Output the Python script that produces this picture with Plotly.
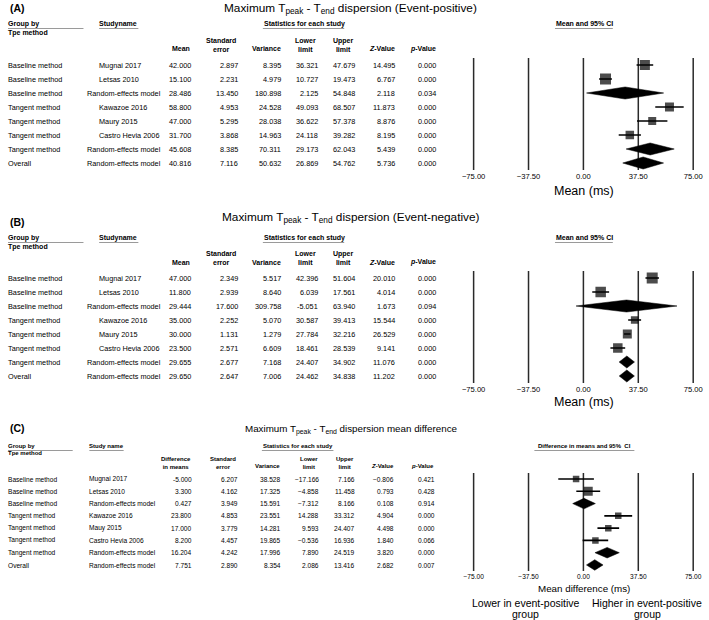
import plotly.graph_objects as go

W, H = 709, 620
FONT = "Liberation Sans, Arial, sans-serif"

# ---------------- data ----------------
groups = ["Baseline method", "Baseline method", "Baseline method",
          "Tangent method", "Tangent method", "Tangent method",
          "Tangent method", "Overall"]
studies_AB = ["Mugnai 2017", "Letsas 2010", "Random-effects model", "Kawazoe 2016",
              "Maury 2015", "Castro Hevia 2006", "Random-effects model", "Random-effects model"]
studies_C = ["Mugnai 2017", "Letsas 2010", "Random-effects model", "Kawazoe 2016",
             "Mauy 2015", "Castro Hevia 2006", "Random-effects model", "Random-effects model"]
is_summary = [False, False, True, False, False, False, True, True]

tick_vals = [-75, -37.5, 0, 37.5, 75]
tick_text = ["\u221275.00", "\u221237.50", "0.00", "37.50", "75.00"]

# Panel A (Event-positive)
mean_A = [42.000, 15.100, 28.486, 58.800, 47.000, 31.700, 45.608, 40.816]
se_A = [2.897, 2.231, 13.450, 4.953, 5.295, 3.868, 8.385, 7.116]
var_A = [8.395, 4.979, 180.898, 24.528, 28.038, 14.963, 70.311, 50.632]
lower_A = [36.321, 10.727, 2.125, 49.093, 36.622, 24.118, 29.173, 26.869]
upper_A = [47.679, 19.473, 54.848, 68.507, 57.378, 39.282, 62.043, 54.762]
z_A = [14.495, 6.767, 2.118, 11.873, 8.876, 8.195, 5.439, 5.736]
p_A = [0.000, 0.000, 0.034, 0.000, 0.000, 0.000, 0.000, 0.000]

# Panel B (Event-negative)
mean_B = [47.000, 11.800, 29.444, 35.000, 30.000, 23.500, 29.655, 29.650]
se_B = [2.349, 2.939, 17.600, 2.252, 1.131, 2.571, 2.677, 2.647]
var_B = [5.517, 8.640, 309.758, 5.070, 1.279, 6.609, 7.168, 7.006]
lower_B = [42.396, 6.039, -5.051, 30.587, 27.784, 18.461, 24.407, 24.462]
upper_B = [51.604, 17.561, 63.940, 39.413, 32.216, 28.539, 34.902, 34.838]
z_B = [20.010, 4.014, 1.673, 15.544, 26.529, 9.141, 11.076, 11.202]
p_B = [0.000, 0.000, 0.094, 0.000, 0.000, 0.000, 0.000, 0.000]

# Panel C (mean difference)
diff_C = [-5.000, 3.300, 0.427, 23.800, 17.000, 8.200, 16.204, 7.751]
se_C = [6.207, 4.162, 3.949, 4.853, 3.779, 4.457, 4.242, 2.890]
var_C = [38.528, 17.325, 15.591, 23.551, 14.281, 19.865, 17.996, 8.354]
lower_C = [-17.166, -4.858, -7.312, 14.288, 9.593, -0.536, 7.890, 2.086]
upper_C = [7.166, 11.458, 8.166, 33.312, 24.407, 16.936, 24.519, 13.416]
z_C = [-0.806, 0.793, 0.108, 4.904, 4.498, 1.840, 3.820, 2.682]
p_C = [0.421, 0.428, 0.914, 0.000, 0.000, 0.066, 0.000, 0.007]

# ---------------- helpers ----------------
annotations = []
shapes = []


def px(x):
    return x / W


def py(y):
    return 1 - y / H


def text(x, y, s, size=7.2, anchor="left", color="black"):
    annotations.append(dict(x=px(x), y=py(y), xref="paper", yref="paper", text=s,
                            showarrow=False, xanchor=anchor, yanchor="middle",
                            font=dict(family=FONT, size=size, color=color),
                            borderpad=0, borderwidth=0, align="center"))


def uline(x0, x1, y, color="#9a9a9a", width=1):
    shapes.append(dict(type="line", xref="paper", yref="paper", x0=px(x0), x1=px(x1),
                       y0=py(y), y1=py(y), line=dict(color=color, width=width)))


def fmt(v, minus="-"):
    s = f"{v:.3f}"
    return s.replace("-", minus)


fig = go.Figure()

panels = [
    dict(key="A", k=1, studies=studies_AB,
         title="Maximum T<sub>peak</sub> - T<sub>end</sub> dispersion (Event-positive)",
         cols=[mean_A, se_A, var_A, lower_A, upper_A, z_A, p_A],
         est=mean_A, lo=lower_A, hi=upper_A,
         sizes=[10, 11, 0, 9, 8, 8.5, 0, 0],
         label_y=8, title_y=8, title_x=349, title_size=11.8,
         h1=24, h2=33, hs1=40, hs2=49, row0=65, dy=14, dom=(58, 170),
         font=7.3, hfont=7.0, study_x=93, re_x=81,
         num_r=[187, 235, 278, 316, 354, 395, 437],
         head_c=[176, 217, 264, 303, 342, 382, 423],
         first_head="Mean", stat_c=302, ci_c=588, ci_head="Mean and 95% CI",
         ul_group=77, ul_study=(93, 133), ul_stat=(260, 343), ul_ci=(558, 617),
         xtitle="Mean (ms)", xtitle_y=191, xtitle_size=12.5,
         study_head="Studyname", minus_lo="-", minus_z="-"),
    dict(key="B", k=2, studies=studies_AB,
         title="Maximum T<sub>peak</sub> - T<sub>end</sub> dispersion (Event-negative)",
         cols=[mean_B, se_B, var_B, lower_B, upper_B, z_B, p_B],
         est=mean_B, lo=lower_B, hi=upper_B,
         sizes=[11, 10.5, 0, 7.5, 9, 9.5, 0, 0],
         label_y=222, title_y=218, title_x=349, title_size=11.8,
         h1=238, h2=247, hs1=253, hs2=262, row0=278, dy=14, dom=(271, 383),
         font=7.3, hfont=7.0, study_x=93, re_x=81,
         num_r=[187, 235, 278, 316, 354, 395, 437],
         head_c=[176, 217, 264, 303, 342, 382, 423],
         first_head="Mean", stat_c=302, ci_c=588, ci_head="Mean and 95% CI",
         ul_group=77, ul_study=(93, 133), ul_stat=(260, 343), ul_ci=(558, 617),
         xtitle="Mean (ms)", xtitle_y=402, xtitle_size=12.5,
         study_head="Studyname", minus_lo="-", minus_z="-"),
    dict(key="C", k=3, studies=studies_C,
         title="Maximum T<sub>peak</sub> - T<sub>end</sub> dispersion mean difference",
         cols=[diff_C, se_C, var_C, lower_C, upper_C, z_C, p_C],
         est=diff_C, lo=lower_C, hi=upper_C,
         sizes=[6.5, 9, 0, 6.5, 6.5, 6.5, 0, 0],
         label_y=428, title_y=429, title_x=350, title_size=9.8,
         h1=446, h2=453, hs1=459, hs2=466, row0=479, dy=12.29, dom=(472.9, 571.1),
         font=6.6, hfont=6.0, study_x=83, re_x=83,
         num_r=[188, 235, 279, 317, 354, 394, 436],
         head_c=[171, 219, 265, 307, 344, 382, 423],
         first_head="Difference<br>in means", stat_c=295.5, ci_c=588,
         ci_head="Difference in means and 95%  CI",
         ul_group=66, ul_study=(83, 118), ul_stat=(259, 332), ul_ci=(537, 639),
         xtitle="Mean difference (ms)", xtitle_y=588, xtitle_size=9.8,
         study_head="Study name", minus_lo="\u2212", minus_z="\u2212"),
]

layout_axes = {}
# forest axis: -75 at 475px, +75 at 699px; domain padded a little on both sides
PPU = (699 - 475) / 150.0
PAD = 4.0

for P in panels:
    k = P["k"]
    xa = "x" if k == 1 else f"x{k}"
    ya = "y" if k == 1 else f"y{k}"
    xname = "xaxis" if k == 1 else f"xaxis{k}"
    yname = "yaxis" if k == 1 else f"yaxis{k}"
    n = len(groups)

    text(2, P["label_y"], f"<b>({P['key']})</b>", size=10.5)
    text(P["title_x"], P["title_y"], P["title"], size=P["title_size"], anchor="center")

    hf = P["hfont"]
    text(0, P["h1"], "<b>Group by</b>", size=hf)
    text(0, P["h2"], "<b>Tpe method</b>", size=hf)
    uline(0, P["ul_group"], P["h1"] + 4.5)
    text(P["study_x"], P["h1"], f"<b>{P['study_head']}</b>", size=hf)
    uline(P["ul_study"][0], P["ul_study"][1], P["h1"] + 4.5)
    text(P["stat_c"], P["h1"], "<b>Statistics for each study</b>", size=hf, anchor="center")
    uline(P["ul_stat"][0], P["ul_stat"][1], P["h1"] + 4.5)
    text(P["ci_c"], P["h1"], f"<b>{P['ci_head']}</b>", size=hf, anchor="center")
    uline(P["ul_ci"][0], P["ul_ci"][1], P["h1"] + 4.5)

    hc = P["head_c"]
    ymid = (P["hs1"] + P["hs2"]) / 2
    if "<br>" in P["first_head"]:
        text(hc[0], ymid, f"<b>{P['first_head']}</b>", size=hf, anchor="center")
    else:
        text(hc[0], P["hs2"], f"<b>{P['first_head']}</b>", size=hf, anchor="center")
    text(hc[1], ymid, "<b>Standard<br>error</b>", size=hf, anchor="center")
    text(hc[2], P["hs2"], "<b>Variance</b>", size=hf, anchor="center")
    text(hc[3], ymid, "<b>Lower<br>limit</b>", size=hf, anchor="center")
    text(hc[4], ymid, "<b>Upper<br>limit</b>", size=hf, anchor="center")
    text(hc[5], P["hs2"], "<b><i>Z</i>-Value</b>", size=hf, anchor="center")
    text(hc[6], P["hs2"], "<b><i>p</i>-Value</b>", size=hf, anchor="center")

    for i in range(n):
        yy = P["row0"] + P["dy"] * i
        text(0, yy, groups[i], size=P["font"])
        sx = P["re_x"] if is_summary[i] else P["study_x"]
        text(sx, yy, P["studies"][i], size=P["font"])
        for c, col in enumerate(P["cols"]):
            minus = "-"
            if c == 3:
                minus = P["minus_lo"]
            if c == 5:
                minus = P["minus_z"]
            text(P["num_r"][c], yy, fmt(col[i], minus), size=P["font"], anchor="right")

    # reference lines at each tick value, spanning the rows
    vx, vy = [], []
    for v in tick_vals:
        vx += [v, v, None]
        vy += [-0.5, n - 0.5, None]
    fig.add_trace(go.Scatter(x=vx, y=vy, mode="lines", xaxis=xa, yaxis=ya,
                             line=dict(color="#2a2a2a", width=1.5), hoverinfo="skip"))

    wx, wy = [], []
    sx_, sy_, ss_ = [], [], []
    dx, dyy = [], []
    hh = 0.43
    for i in range(n):
        if is_summary[i]:
            dx += [P["lo"][i], P["est"][i], P["hi"][i], P["est"][i], P["lo"][i], None]
            dyy += [i, i - hh, i, i + hh, i, None]
        else:
            wx += [P["lo"][i], P["hi"][i], None]
            wy += [i, i, None]
            sx_.append(P["est"][i])
            sy_.append(i)
            ss_.append(P["sizes"][i])
    fig.add_trace(go.Scatter(x=wx, y=wy, mode="lines", xaxis=xa, yaxis=ya,
                             line=dict(color="black", width=1.6), hoverinfo="skip"))
    fig.add_trace(go.Scatter(x=sx_, y=sy_, mode="markers", xaxis=xa, yaxis=ya,
                             marker=dict(symbol="square", size=ss_, color="black",
                                         line=dict(width=0)), hoverinfo="skip"))
    fig.add_trace(go.Scatter(x=dx, y=dyy, mode="lines", fill="toself", xaxis=xa, yaxis=ya,
                             fillcolor="black", line=dict(color="black", width=0.5),
                             hoverinfo="skip"))

    layout_axes[xname] = dict(domain=[px(475 - PAD), px(699 + PAD)],
                              range=[-75 - PAD / PPU, 75 + PAD / PPU], anchor=ya,
                              tickvals=tick_vals, ticktext=tick_text, showgrid=False,
                              zeroline=False, showline=False, ticks="", fixedrange=True,
                              ticklabeloverflow="allow",
                              tickfont=dict(family=FONT, size=P["hfont"] + 0.6, color="black"))
    layout_axes[yname] = dict(domain=[py(P["dom"][1]), py(P["dom"][0])],
                              range=[n - 0.5, -0.5], anchor=xa, visible=False,
                              showgrid=False, zeroline=False, fixedrange=True)

    text(588, P["xtitle_y"], P["xtitle"], size=P["xtitle_size"], anchor="center")

text(528, 603, "Lower in event-positive", size=10.5, anchor="center")
text(528, 614, "group", size=10.5, anchor="center")
text(652, 603, "Higher in event-positive", size=10.5, anchor="center")
text(652, 614, "group", size=10.5, anchor="center")

fig.update_layout(width=W, height=H, margin=dict(l=0, r=0, t=0, b=0),
                  paper_bgcolor="white", plot_bgcolor="rgba(0,0,0,0)",
                  showlegend=False, annotations=annotations, shapes=shapes,
                  font=dict(family=FONT, color="black"), **layout_axes)

fig.write_html("out.html", config={"displayModeBar": False},
               post_script=("document.documentElement.style.margin='0';"
                            "document.documentElement.style.overflow='hidden';"
                            "document.body.style.margin='0';"
                            "document.body.style.overflow='hidden';"))
